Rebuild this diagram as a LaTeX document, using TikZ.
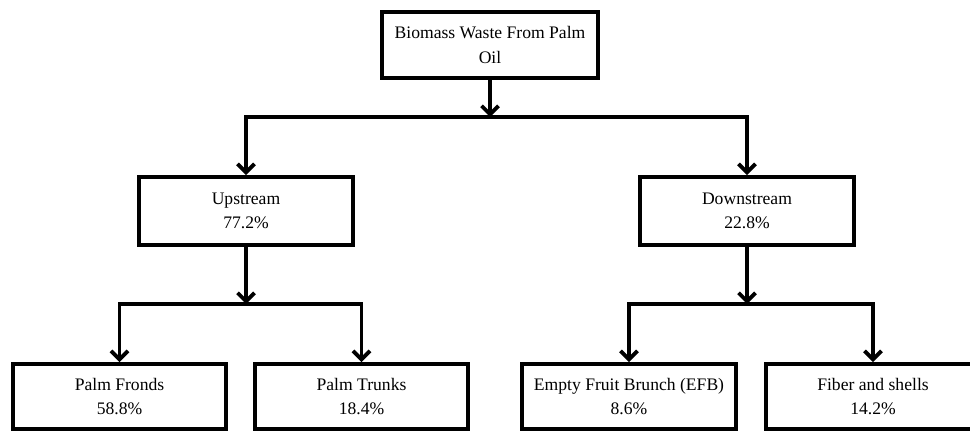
\documentclass[tikz,border=0pt]{standalone}
\usepackage{fontspec}
\setmainfont{Liberation Serif}
\usetikzlibrary{arrows.meta,calc}
\tikzstyle{block} = [rectangle, draw, line width=3.8pt, minimum width=214pt, minimum height=66pt, inner sep=0pt, align=center, font=\fontsize{17.6}{24.5}\selectfont]
\tikzstyle{arrow} = [draw, line width=3.8pt, -{Straight Barb[length=8.5pt,width=17pt]}]

\begin{document}
\begin{tikzpicture}[x=1pt, y=-1pt]
      \useasboundingbox (0,0) rectangle (970,433);
      \pgfmathsetmacro{\ya}{117}
      \pgfmathsetmacro{\yb}{304}
      \node [block, minimum width=216pt] at (490, 45) (waste) {Biomass Waste From Palm\\Oil};
      \node [block, minimum height=68pt] at (246, 211) (up) {Upstream\\77.2\%};
      \node [block, minimum height=68pt] at (747, 211) (down) {Downstream\\22.8\%};
      \node [block, minimum width=213pt, minimum height=65pt] at (119.5, 396.5) (fronds) {Palm Fronds\\58.8\%};
      \node [block, minimum width=213pt, minimum height=65pt] at (361.5, 396.5) (trunks) {Palm Trunks\\18.4\%};
      \node [block, minimum width=214pt, minimum height=65pt] at (629, 396.5) (efb) {Empty Fruit Brunch (EFB)\\8.6\%};
      \node [block, minimum width=214pt, minimum height=65pt] at (873, 396.5) (fiber) {Fiber and shells\\14.2\%};
      \coordinate (j0) at (waste |- 0, \ya);
      \coordinate (j1) at (up |- 0, \yb);
      \coordinate (j2) at (down |- 0, \yb);
      \path [arrow] (waste) -- (j0);
      \path [arrow] (j0) -| (up);
      \path [arrow] (j0) -| (down);
      \path [arrow] (up) -- (j1);
      \path [arrow] (j1) -| (fronds);
      \path [arrow] (j1) -| (trunks);
      \path [arrow] (down) -- (j2);
      \path [arrow] (j2) -| (efb);
      \path [arrow] (j2) -| (fiber);
    \end{tikzpicture}
\end{document}
